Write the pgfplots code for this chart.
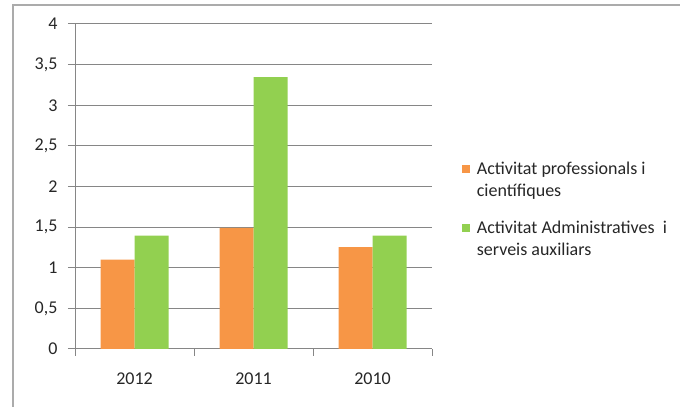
\documentclass[border=0pt]{standalone}
\usepackage{fontspec}
\setmainfont{Carlito}
\usepackage{pgfplots}
\pgfplotsset{compat=1.18}
\definecolor{orng}{HTML}{F79646}
\definecolor{grn}{HTML}{92D050}
\definecolor{gridc}{HTML}{868686}
\definecolor{framec}{HTML}{ABABAB}
\begin{document}
\begin{tikzpicture}[font=\fontsize{18bp}{22bp}\selectfont]
\useasboundingbox (0,0) rectangle (680bp,407bp);
\draw[color=framec, line width=2bp] (13bp,0) -- (13bp,402bp) -- (680bp,402bp);
\begin{axis}[
  at={(75bp,58bp)}, anchor=south west,
  scale only axis, width=357bp, height=325bp,
  ybar=0pt, bar width=34bp,
  ymin=0, ymax=4, ytick={0,0.5,...,4},
  xmin=-0.5, xmax=2.5,
  xtick={0,1,2}, xticklabels={2012,2011,2010},
  minor xtick={-0.5,0.5,1.5,2.5},
  major x tick style={draw=none},
  minor x tick style={draw=gridc, line width=1bp},
  minor tick length=7bp,
  major tick length=7bp,
  ytick style={draw=gridc, line width=1bp},
  tick align=outside,
  axis x line*=bottom, axis y line*=left,
  axis line style={draw=gridc, line width=1bp, -},
  ymajorgrids, grid style={draw=gridc, line width=1bp},
  /pgf/number format/.cd, use comma, assume math mode=true, /pgfplots/.cd,
  yticklabel style={anchor=east, xshift=-7bp},
  xticklabel style={yshift=-13bp},
  tick label style={text=black!85},
  legend style={draw=none, fill=none, at={(1.083,0.583)}, anchor=north west,
    cells={anchor=west, align=left}, row sep=19bp, column sep=5bp, inner sep=0pt,
    nodes={inner sep=2bp, text=black!85}},
  legend cell align=left,
]
\addplot[fill=orng, draw=none, legend image code/.code={\fill[orng] (0bp,7bp) rectangle (8bp,15bp);}]
  coordinates {(0,1.1) (1,1.49) (2,1.255)};
\addlegendentry{Activitat professionals i\\científiques}
\addplot[fill=grn, draw=none, legend image code/.code={\fill[grn] (0bp,7bp) rectangle (8bp,15bp);}]
  coordinates {(0,1.395) (1,3.345) (2,1.395)};
\addlegendentry{Activitat Administratives\ \ i\\serveis auxiliars}
\end{axis}
\end{tikzpicture}
\end{document}
